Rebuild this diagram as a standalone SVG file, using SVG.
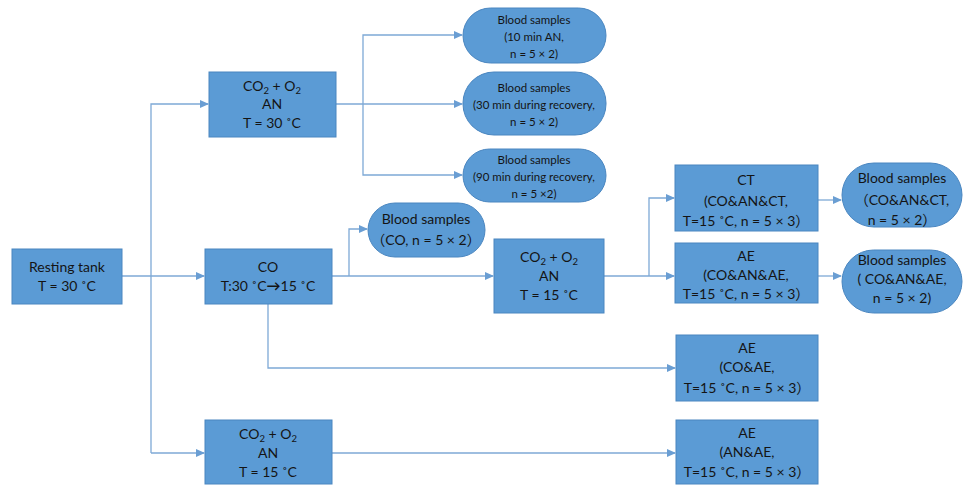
<svg xmlns="http://www.w3.org/2000/svg" width="964" height="486" viewBox="0 0 964 486">
<style>
.box{fill:#5B9BD5;stroke:#4A86C0;stroke-width:1}
.t{font-family:Lato,"Noto Sans CJK SC","Noto Sans",sans-serif;font-size:14px;fill:#141414;text-anchor:middle}
.s{font-family:Lato,"Noto Sans CJK SC","Noto Sans",sans-serif;font-size:11.5px;fill:#141414;text-anchor:middle}
.c{fill:none;stroke:#7EA9D6;stroke-width:1.3}
.sub{font-size:9.5px}
</style>
<defs>
<marker id="ah" markerWidth="9" markerHeight="8" refX="8" refY="4" orient="auto" markerUnits="userSpaceOnUse">
<path d="M0,0 L9,4 L0,8 Z" fill="#6A9ED3"/>
</marker>
</defs>
<rect width="964" height="486" fill="#ffffff"/>
<g id="connectors">
<path class="c" d="M122,276 H204" marker-end="url(#ah)"/>
<path class="c" d="M151,453 V104 H208" marker-end="url(#ah)"/>
<path class="c" d="M151,453 H204" marker-end="url(#ah)"/>
<path class="c" d="M336,104 H462" marker-end="url(#ah)"/>
<path class="c" d="M363,104 V35 H462" marker-end="url(#ah)"/>
<path class="c" d="M363,104 V175 H462" marker-end="url(#ah)"/>
<path class="c" d="M332,276 H493" marker-end="url(#ah)"/>
<path class="c" d="M349,276 V229 H367" marker-end="url(#ah)"/>
<path class="c" d="M604,276 H674" marker-end="url(#ah)"/>
<path class="c" d="M649,276 V198 H674" marker-end="url(#ah)"/>
<path class="c" d="M268,303 V368 H675" marker-end="url(#ah)"/>
<path class="c" d="M332,453 H675" marker-end="url(#ah)"/>
<path class="c" d="M818,200 H841" marker-end="url(#ah)"/>
<path class="c" d="M818,276 H841" marker-end="url(#ah)"/>
</g>
<g id="resting">
<rect class="box" x="12" y="249" width="110" height="55"/>
<text class="t" x="67" y="272">Resting tank</text>
<text class="t" x="67" y="291">T = 30 ˚C</text>
</g>
<g id="an30">
<rect class="box" x="209" y="72" width="127" height="65"/>
<text class="t" x="272" y="91">CO<tspan class="sub" dy="3">2</tspan><tspan dy="-3"> + O</tspan><tspan class="sub" dy="3">2</tspan></text>
<text class="t" x="272" y="109">AN</text>
<text class="t" x="272" y="128">T = 30 ˚C</text>
</g>
<g id="co">
<rect class="box" x="205" y="249" width="127" height="55"/>
<text class="t" x="268" y="272">CO</text>
<text class="t" x="268" y="291">T:30 ˚C<tspan font-weight="bold">→</tspan>15 ˚C</text>
</g>
<g id="an15b">
<rect class="box" x="205" y="420" width="127" height="64"/>
<text class="t" x="268" y="439">CO<tspan class="sub" dy="3">2</tspan><tspan dy="-3"> + O</tspan><tspan class="sub" dy="3">2</tspan></text>
<text class="t" x="268" y="458">AN</text>
<text class="t" x="268" y="477">T = 15 ˚C</text>
</g>
<g id="bs10">
<rect class="box" x="463" y="8" width="143" height="55" rx="27.5"/>
<text class="s" x="534" y="24">Blood samples</text>
<text class="s" x="534" y="41">(10 min AN,</text>
<text class="s" x="534" y="58">n = 5 × 2)</text>
</g>
<g id="bs30">
<rect class="box" x="463" y="72" width="143" height="63" rx="31"/>
<text class="s" x="534" y="92">Blood samples</text>
<text class="s" x="534" y="109">(30 min during recovery,</text>
<text class="s" x="534" y="126">n = 5 × 2)</text>
</g>
<g id="bs90">
<rect class="box" x="463" y="149" width="143" height="53" rx="26.5"/>
<text class="s" x="534" y="164">Blood samples</text>
<text class="s" x="534" y="181">(90 min during recovery,</text>
<text class="s" x="534" y="198">n = 5 ×2)</text>
</g>
<g id="bsco">
<rect class="box" x="368" y="203" width="117" height="54" rx="27"/>
<text class="t" x="426" y="224">Blood samples</text>
<text class="t" x="426" y="245">（CO, n = 5 × 2）</text>
</g>
<g id="an15">
<rect class="box" x="494" y="239" width="110" height="74"/>
<text class="t" x="549" y="262">CO<tspan class="sub" dy="3">2</tspan><tspan dy="-3"> + O</tspan><tspan class="sub" dy="3">2</tspan></text>
<text class="t" x="549" y="281">AN</text>
<text class="t" x="549" y="300">T = 15 ˚C</text>
</g>
<g id="ct">
<rect class="box" x="675" y="165" width="143" height="66"/>
<text class="t" x="746" y="185">CT</text>
<text class="t" x="746" y="206">(CO&amp;AN&amp;CT,</text>
<text class="t" x="746" y="226">T=15 ˚C, n = 5 × 3）</text>
</g>
<g id="ae1">
<rect class="box" x="675" y="243" width="143" height="60"/>
<text class="t" x="746" y="261">AE</text>
<text class="t" x="746" y="280">(CO&amp;AN&amp;AE,</text>
<text class="t" x="746" y="299">T=15 ˚C, n = 5 × 3）</text>
</g>
<g id="bsct">
<rect class="box" x="842" y="163" width="120" height="64" rx="32"/>
<text class="t" x="902" y="183">Blood samples</text>
<text class="t" x="902" y="205">（CO&amp;AN&amp;CT,</text>
<text class="t" x="902" y="225">n = 5 × 2）</text>
</g>
<g id="bsae">
<rect class="box" x="842" y="250" width="120" height="63" rx="31.5"/>
<text class="t" x="902" y="265">Blood samples</text>
<text class="t" x="902" y="284">( CO&amp;AN&amp;AE,</text>
<text class="t" x="902" y="303">n = 5 × 2)</text>
</g>
<g id="ae2">
<rect class="box" x="676" y="335" width="142" height="66"/>
<text class="t" x="747" y="353">AE</text>
<text class="t" x="747" y="372">(CO&amp;AE,</text>
<text class="t" x="747" y="393">T=15 ˚C, n = 5 × 3）</text>
</g>
<g id="ae3">
<rect class="box" x="676" y="420" width="142" height="64"/>
<text class="t" x="747" y="438">AE</text>
<text class="t" x="747" y="457">(AN&amp;AE,</text>
<text class="t" x="747" y="477">T=15 ˚C, n = 5 × 3）</text>
</g>
</svg>
